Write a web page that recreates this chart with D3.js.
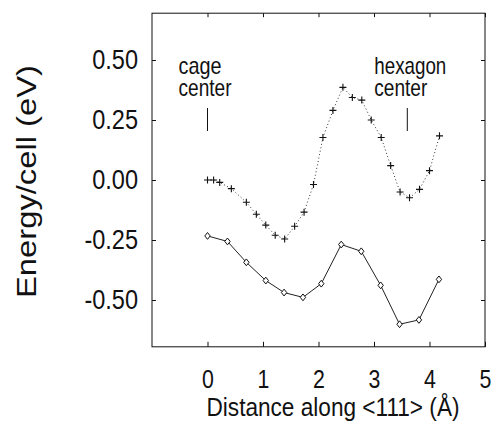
<!DOCTYPE html>
<html>
<head>
<meta charset="utf-8">
<script src="https://cdn.jsdelivr.net/npm/d3@7/dist/d3.min.js"></script>
<style>
  body { margin: 0; background: #fff; }
  svg { display: block; }
</style>
</head>
<body>
<div id="chart"></div>
<script>
// energy along <111>
const plusX = [0, 0.11, 0.22, 0.43, 0.70, 0.88, 1.05, 1.22, 1.39, 1.57, 1.74, 1.91, 2.08,
               2.26, 2.44, 2.61, 2.78, 2.95, 3.13, 3.30, 3.47, 3.64, 3.82, 4.00, 4.18];
const plusY = [0, 0, -0.01, -0.036, -0.093, -0.143, -0.188, -0.23, -0.246, -0.193, -0.134, -0.019, 0.177,
               0.29, 0.386, 0.344, 0.333, 0.25, 0.177, 0.06, -0.05, -0.074, -0.039, 0.039, 0.184];

const diamX = [0, 0.36, 0.70, 1.05, 1.38, 1.72, 2.05, 2.41, 2.77, 3.12, 3.46, 3.81, 4.17];
const diamY = [-0.233, -0.256, -0.343, -0.419, -0.469, -0.489, -0.432, -0.269, -0.297, -0.439, -0.601, -0.583, -0.414];

const xTicks = [0, 1, 2, 3, 4, 5];
const yTicks = [-0.50, -0.25, 0.00, 0.25, 0.50];

const marks = [
  { x: 0, lines: ["cage", "center"] },
  { x: 3.6, lines: ["hexagon", "center"] }
];

const w = 492, h = 434;
const font = "'Liberation Sans', Arial, sans-serif";

const svg = d3.select("#chart").append("svg")
  .attr("width", w)
  .attr("height", h);

const x = d3.scaleLinear().domain([-1, 5]).range([152, 485]);
const y = d3.scaleLinear().domain([-0.695, 0.695]).range([346.8, 13.2]);

const [x0, x1] = x.range();
const [y0, y1] = y.range();

// squeeze a text horizontally (the original uses a condensed face)
function squeeze(sel, k) {
  sel.each(function () {
    const len = this.getComputedTextLength();
    d3.select(this)
      .attr("textLength", len * k)
      .attr("lengthAdjust", "spacingAndGlyphs");
  });
}

// frame
svg.append("rect")
  .attr("x", x0).attr("y", y1)
  .attr("width", x1 - x0).attr("height", y0 - y1)
  .attr("fill", "none")
  .attr("stroke", "#111")
  .attr("stroke-width", 1);

// ticks pointing inward on all four sides
const bottom = svg.append("g")
  .attr("transform", `translate(0,${y0})`)
  .call(d3.axisBottom(x).tickValues(xTicks).tickSize(-5).tickFormat(d => d));
const left = svg.append("g")
  .attr("transform", `translate(${x0},0)`)
  .call(d3.axisLeft(y).tickValues(yTicks).tickSize(-4).tickPadding(14).tickFormat(d => d.toFixed(2)));
svg.append("g")
  .attr("transform", `translate(0,${y1})`)
  .call(d3.axisTop(x).tickValues(xTicks).tickSize(-4).tickFormat(""));
svg.append("g")
  .attr("transform", `translate(${x1},0)`)
  .call(d3.axisRight(y).tickValues(yTicks).tickSize(-4).tickFormat(""));

svg.selectAll(".domain").remove();
svg.selectAll(".tick line").attr("stroke", "#111");

bottom.selectAll("text")
  .attr("dy", null)
  .attr("y", 41.5)
  .style("font-family", font)
  .style("font-size", "26px")
  .attr("fill", "#111")
  .call(squeeze, 0.82);
left.selectAll("text")
  .style("font-family", font)
  .style("font-size", "28px")
  .attr("fill", "#111")
  .call(squeeze, 0.84);

// series
const plusData = plusX.map((v, i) => [v, plusY[i]]);
const diamData = diamX.map((v, i) => [v, diamY[i]]);
const line = d3.line().x(d => x(d[0])).y(d => y(d[1]));

svg.append("path")
  .attr("d", line(plusData))
  .attr("fill", "none")
  .attr("stroke", "#333")
  .attr("stroke-width", 1)
  .attr("stroke-dasharray", "1,2.5");

svg.append("g").selectAll("path")
  .data(plusData)
  .join("path")
  .attr("d", d => {
    const cx = x(d[0]), cy = y(d[1]);
    return `M${cx - 3.5},${cy}H${cx + 3.5}M${cx},${cy - 3.5}V${cy + 3.5}`;
  })
  .attr("stroke", "#111")
  .attr("stroke-width", 1.1);

svg.append("path")
  .attr("d", line(diamData))
  .attr("fill", "none")
  .attr("stroke", "#222")
  .attr("stroke-width", 1);

svg.append("g").selectAll("path")
  .data(diamData)
  .join("path")
  .attr("d", d => {
    const cx = x(d[0]), cy = y(d[1]);
    return `M${cx},${cy - 3.4}L${cx + 2.7},${cy}L${cx},${cy + 3.4}L${cx - 2.7},${cy}Z`;
  })
  .attr("fill", "#fff")
  .attr("stroke", "#111")
  .attr("stroke-width", 1);

// annotations
const lens = { cage: 43, center: 53, hexagon: 72 };
marks.forEach(m => {
  const tx = m.x === 0 ? x(m.x) - 29 : x(m.x) - 33;
  m.lines.forEach((s, i) => {
    svg.append("text")
      .attr("x", tx)
      .attr("y", 73.5 + i * 22.3)
      .attr("textLength", lens[s])
      .attr("lengthAdjust", "spacingAndGlyphs")
      .style("font-family", font)
      .style("font-size", "24px")
      .attr("fill", "#111")
      .text(s);
  });
  svg.append("line")
    .attr("x1", x(m.x)).attr("x2", x(m.x))
    .attr("y1", 108).attr("y2", 131)
    .attr("stroke", "#111")
    .attr("stroke-width", 1);
});

// axis titles
svg.append("text")
  .attr("x", 206.5)
  .attr("y", 415.5)
  .attr("textLength", 253)
  .attr("lengthAdjust", "spacingAndGlyphs")
  .style("font-family", font)
  .style("font-size", "25px")
  .attr("fill", "#111")
  .text("Distance along <111> (Å)");

svg.append("text")
  .attr("transform", "translate(36,181.5) rotate(-90)")
  .attr("text-anchor", "middle")
  .attr("textLength", 233)
  .attr("lengthAdjust", "spacingAndGlyphs")
  .style("font-family", font)
  .style("font-size", "27px")
  .attr("fill", "#111")
  .text("Energy/cell (eV)");
</script>
</body>
</html>
